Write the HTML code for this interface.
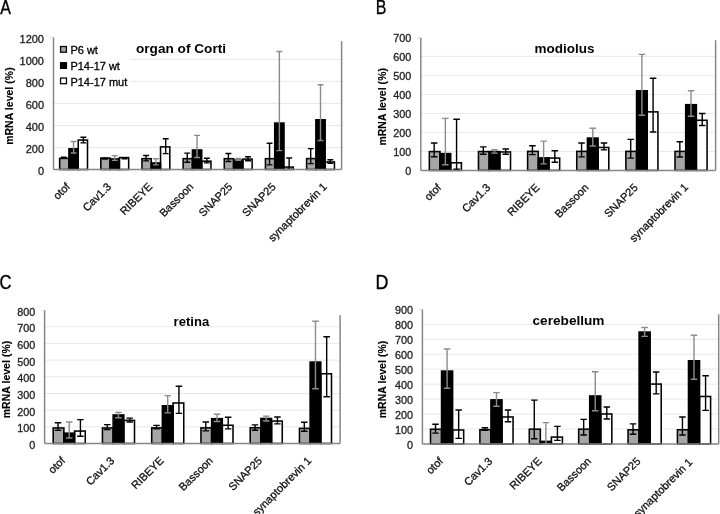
<!DOCTYPE html>
<html><head><meta charset="utf-8"><title>mRNA level charts</title>
<style>html,body{margin:0;padding:0;background:#fff;width:720px;height:514px;overflow:hidden}</style>
</head><body>
<svg width="720" height="514" viewBox="0 0 720 514" style="display:block;filter:blur(0.3px)">
<rect x="0" y="0" width="720" height="514" fill="#fff"/>
<g><line x1="53.5" y1="147.47" x2="341.6" y2="147.47" stroke="#e8e8e8" stroke-width="1"/><line x1="53.5" y1="125.43" x2="341.6" y2="125.43" stroke="#e8e8e8" stroke-width="1"/><line x1="53.5" y1="103.4" x2="341.6" y2="103.4" stroke="#e8e8e8" stroke-width="1"/><line x1="53.5" y1="81.37" x2="341.6" y2="81.37" stroke="#e8e8e8" stroke-width="1"/><line x1="53.5" y1="59.33" x2="341.6" y2="59.33" stroke="#e8e8e8" stroke-width="1"/><line x1="341.6" y1="41.2" x2="341.6" y2="169.5" stroke="#868686" stroke-width="1.5"/><text x="136" y="52.5" font-family='"Liberation Sans", sans-serif' font-weight="bold" font-size="13" textLength="90" lengthAdjust="spacingAndGlyphs" fill="#000">organ of Corti</text><rect x="54.3" y="41" width="76" height="49" fill="#fff"/><rect x="60.55" y="46.52" width="5.9" height="5.7" fill="#a6a6a6" stroke="#000" stroke-width="1.25"/><text x="70.4" y="53.9" font-family='"Liberation Sans", sans-serif' font-size="11" fill="#000" stroke="#000" stroke-width="0.3">P6 wt</text><rect x="60.55" y="62.72" width="5.9" height="5.7" fill="#000" stroke="#000" stroke-width="1.25"/><text x="70.4" y="69.7" font-family='"Liberation Sans", sans-serif' font-size="11" fill="#000" stroke="#000" stroke-width="0.3">P14-17 wt</text><rect x="60.55" y="78.02" width="5.9" height="5.7" fill="#fff" stroke="#000" stroke-width="1.25"/><text x="70.4" y="85.5" font-family='"Liberation Sans", sans-serif' font-size="11" fill="#000" stroke="#000" stroke-width="0.3">P14-17 mut</text><rect x="59.65" y="158.38" width="9.28" height="11.13" fill="#a6a6a6"/><rect x="68.94" y="148.78" width="9.28" height="20.73" fill="#000"/><rect x="78.22" y="140.08" width="9.28" height="29.42" fill="#fff"/><rect x="59.65" y="158.38" width="9.28" height="11.13" fill="none" stroke="#000" stroke-width="1.55"/><rect x="68.94" y="148.78" width="9.28" height="20.73" fill="none" stroke="#000" stroke-width="1.55"/><rect x="78.22" y="140.08" width="9.28" height="29.42" fill="none" stroke="#000" stroke-width="1.55"/><path d="M63.78 157V158.4M60.83 157.2H66.73M60.83 158.2H66.73" stroke="#000" stroke-width="1.4" fill="none"/><path d="M73.58 141.3V153.2M70.63 141.5H76.53M70.63 153H76.53" stroke="#8c8c8c" stroke-width="1.4" fill="none"/><path d="M83.38 137V143.1M80.43 137.2H86.33M80.43 142.9H86.33" stroke="#000" stroke-width="1.4" fill="none"/><rect x="100.81" y="158.08" width="9.28" height="11.42" fill="#a6a6a6"/><rect x="110.09" y="158.97" width="9.28" height="10.53" fill="#000"/><rect x="119.38" y="157.58" width="9.28" height="11.92" fill="#fff"/><rect x="100.81" y="158.08" width="9.28" height="11.42" fill="none" stroke="#000" stroke-width="1.55"/><rect x="110.09" y="158.97" width="9.28" height="10.53" fill="none" stroke="#000" stroke-width="1.55"/><rect x="119.38" y="157.58" width="9.28" height="11.92" fill="none" stroke="#000" stroke-width="1.55"/><path d="M104.94 157.9V159.3M101.99 158.1H107.89M101.99 159.1H107.89" stroke="#000" stroke-width="1.4" fill="none"/><path d="M114.74 155.4V160.6M111.79 155.6H117.69M111.79 160.4H117.69" stroke="#8c8c8c" stroke-width="1.4" fill="none"/><path d="M124.54 157.4V159M121.59 157.6H127.49M121.59 158.8H127.49" stroke="#000" stroke-width="1.4" fill="none"/><rect x="141.97" y="158.68" width="9.28" height="10.82" fill="#a6a6a6"/><rect x="151.25" y="162.97" width="9.28" height="6.53" fill="#000"/><rect x="160.53" y="146.88" width="9.28" height="22.63" fill="#fff"/><rect x="141.97" y="158.68" width="9.28" height="10.82" fill="none" stroke="#000" stroke-width="1.55"/><rect x="151.25" y="162.97" width="9.28" height="6.53" fill="none" stroke="#000" stroke-width="1.55"/><rect x="160.53" y="146.88" width="9.28" height="22.63" fill="none" stroke="#000" stroke-width="1.55"/><path d="M146.09 155.3V161.1M143.14 155.5H149.04M143.14 160.9H149.04" stroke="#000" stroke-width="1.4" fill="none"/><path d="M155.89 158.6V165.1M152.94 158.8H158.84M152.94 164.9H158.84" stroke="#8c8c8c" stroke-width="1.4" fill="none"/><path d="M165.69 138.6V153.8M162.74 138.8H168.64M162.74 153.6H168.64" stroke="#000" stroke-width="1.4" fill="none"/><rect x="183.13" y="158.68" width="9.28" height="10.82" fill="#a6a6a6"/><rect x="192.41" y="149.97" width="9.28" height="19.53" fill="#000"/><rect x="201.69" y="161.18" width="9.28" height="8.32" fill="#fff"/><rect x="183.13" y="158.68" width="9.28" height="10.82" fill="none" stroke="#000" stroke-width="1.55"/><rect x="192.41" y="149.97" width="9.28" height="19.53" fill="none" stroke="#000" stroke-width="1.55"/><rect x="201.69" y="161.18" width="9.28" height="8.32" fill="none" stroke="#000" stroke-width="1.55"/><path d="M187.25 152.9V162.4M184.3 153.1H190.2M184.3 162.2H190.2" stroke="#000" stroke-width="1.4" fill="none"/><path d="M197.05 135.2V157.7M194.1 135.4H200M194.1 157.5H200" stroke="#8c8c8c" stroke-width="1.4" fill="none"/><path d="M206.85 158V163.1M203.9 158.2H209.8M203.9 162.9H209.8" stroke="#000" stroke-width="1.4" fill="none"/><rect x="224.28" y="158.68" width="9.28" height="10.82" fill="#a6a6a6"/><rect x="233.57" y="160.08" width="9.28" height="9.42" fill="#000"/><rect x="242.85" y="159.08" width="9.28" height="10.42" fill="#fff"/><rect x="224.28" y="158.68" width="9.28" height="10.82" fill="none" stroke="#000" stroke-width="1.55"/><rect x="233.57" y="160.08" width="9.28" height="9.42" fill="none" stroke="#000" stroke-width="1.55"/><rect x="242.85" y="159.08" width="9.28" height="10.42" fill="none" stroke="#000" stroke-width="1.55"/><path d="M228.41 153.3V161.7M225.46 153.5H231.36M225.46 161.5H231.36" stroke="#000" stroke-width="1.4" fill="none"/><path d="M238.21 158.3V160.5M235.26 158.5H241.16M235.26 160.3H241.16" stroke="#8c8c8c" stroke-width="1.4" fill="none"/><path d="M248.01 156.6V161M245.06 156.8H250.96M245.06 160.8H250.96" stroke="#000" stroke-width="1.4" fill="none"/><rect x="265.44" y="158.68" width="9.28" height="10.82" fill="#a6a6a6"/><rect x="274.72" y="123.08" width="9.28" height="46.43" fill="#000"/><rect x="284.01" y="167.08" width="9.28" height="2.42" fill="#fff"/><rect x="265.44" y="158.68" width="9.28" height="10.82" fill="none" stroke="#000" stroke-width="1.55"/><rect x="274.72" y="123.08" width="9.28" height="46.43" fill="none" stroke="#000" stroke-width="1.55"/><rect x="284.01" y="167.08" width="9.28" height="2.42" fill="none" stroke="#000" stroke-width="1.55"/><path d="M269.56 143.1V165.1M266.61 143.3H272.51M266.61 164.9H272.51" stroke="#000" stroke-width="1.4" fill="none"/><path d="M279.36 51.3V150.8M276.41 51.5H282.31M276.41 150.6H282.31" stroke="#8c8c8c" stroke-width="1.4" fill="none"/><path d="M289.16 157.8V169.5M286.21 158H292.11M286.21 169.3H292.11" stroke="#000" stroke-width="1.4" fill="none"/><rect x="306.6" y="158.58" width="9.28" height="10.92" fill="#a6a6a6"/><rect x="315.88" y="119.78" width="9.28" height="49.73" fill="#000"/><rect x="325.16" y="161.97" width="9.28" height="7.53" fill="#fff"/><rect x="306.6" y="158.58" width="9.28" height="10.92" fill="none" stroke="#000" stroke-width="1.55"/><rect x="315.88" y="119.78" width="9.28" height="49.73" fill="none" stroke="#000" stroke-width="1.55"/><rect x="325.16" y="161.97" width="9.28" height="7.53" fill="none" stroke="#000" stroke-width="1.55"/><path d="M310.72 148.4V163.8M307.77 148.6H313.67M307.77 163.6H313.67" stroke="#000" stroke-width="1.4" fill="none"/><path d="M320.52 84.6V140.7M317.57 84.8H323.47M317.57 140.5H323.47" stroke="#8c8c8c" stroke-width="1.4" fill="none"/><path d="M330.32 159.5V163.4M327.37 159.7H333.27M327.37 163.2H333.27" stroke="#000" stroke-width="1.4" fill="none"/><line x1="53.5" y1="37.3" x2="53.5" y2="169.5" stroke="#868686" stroke-width="1.5"/><line x1="50" y1="37.8" x2="53.5" y2="37.8" stroke="#d0d0d0" stroke-width="0.8"/><line x1="53.5" y1="169.5" x2="341.6" y2="169.5" stroke="#868686" stroke-width="1.5"/><text x="44" y="175.1" text-anchor="end" font-family='"Liberation Sans", sans-serif' font-size="11" fill="#222" stroke="#222" stroke-width="0.3">0</text><text x="44" y="153.07" text-anchor="end" font-family='"Liberation Sans", sans-serif' font-size="11" fill="#222" stroke="#222" stroke-width="0.3">200</text><text x="44" y="131.03" text-anchor="end" font-family='"Liberation Sans", sans-serif' font-size="11" fill="#222" stroke="#222" stroke-width="0.3">400</text><text x="44" y="109" text-anchor="end" font-family='"Liberation Sans", sans-serif' font-size="11" fill="#222" stroke="#222" stroke-width="0.3">600</text><text x="44" y="86.97" text-anchor="end" font-family='"Liberation Sans", sans-serif' font-size="11" fill="#222" stroke="#222" stroke-width="0.3">800</text><text x="44" y="64.93" text-anchor="end" font-family='"Liberation Sans", sans-serif' font-size="11" fill="#222" stroke="#222" stroke-width="0.3">1000</text><text x="44" y="42.9" text-anchor="end" font-family='"Liberation Sans", sans-serif' font-size="11" fill="#222" stroke="#222" stroke-width="0.3">1200</text><text transform="translate(12.7,106.1) rotate(-90)" text-anchor="middle" font-family='"Liberation Sans", sans-serif' font-weight="bold" font-size="10.4" textLength="77.5" lengthAdjust="spacing" fill="#000" stroke="#000" stroke-width="0.15">mRNA level (%)</text><text transform="translate(67.88,184.5) rotate(-45)" text-anchor="end" dominant-baseline="central" font-family='"Liberation Sans", sans-serif' font-size="11" fill="#111" stroke="#111" stroke-width="0.3">otof</text><text transform="translate(109.04,184.5) rotate(-45)" text-anchor="end" dominant-baseline="central" font-family='"Liberation Sans", sans-serif' font-size="11" fill="#111" stroke="#111" stroke-width="0.3">Cav1.3</text><text transform="translate(150.19,184.5) rotate(-45)" text-anchor="end" dominant-baseline="central" font-family='"Liberation Sans", sans-serif' font-size="11" fill="#111" stroke="#111" stroke-width="0.3">RIBEYE</text><text transform="translate(191.35,184.5) rotate(-45)" text-anchor="end" dominant-baseline="central" font-family='"Liberation Sans", sans-serif' font-size="11" fill="#111" stroke="#111" stroke-width="0.3">Bassoon</text><text transform="translate(230.21,184.5) rotate(-45)" text-anchor="end" dominant-baseline="central" font-family='"Liberation Sans", sans-serif' font-size="11" fill="#111" stroke="#111" stroke-width="0.3">SNAP25</text><text transform="translate(273.66,184.5) rotate(-45)" text-anchor="end" dominant-baseline="central" font-family='"Liberation Sans", sans-serif' font-size="11" fill="#111" stroke="#111" stroke-width="0.3">SNAP25</text><text transform="translate(324.82,184.5) rotate(-45)" text-anchor="end" dominant-baseline="central" font-family='"Liberation Sans", sans-serif' font-size="11" fill="#111" stroke="#111" stroke-width="0.3">synaptobrevin 1</text><text transform="translate(0.3,14) scale(0.82,1)" x="0" y="0" font-family='"Liberation Sans", sans-serif' font-size="19.5" fill="#000" stroke="#000" stroke-width="0.35">A</text></g>
<g><line x1="420.8" y1="151.4" x2="715.6" y2="151.4" stroke="#e8e8e8" stroke-width="1"/><line x1="420.8" y1="132.4" x2="715.6" y2="132.4" stroke="#e8e8e8" stroke-width="1"/><line x1="420.8" y1="113.4" x2="715.6" y2="113.4" stroke="#e8e8e8" stroke-width="1"/><line x1="420.8" y1="94.4" x2="715.6" y2="94.4" stroke="#e8e8e8" stroke-width="1"/><line x1="420.8" y1="75.4" x2="715.6" y2="75.4" stroke="#e8e8e8" stroke-width="1"/><line x1="420.8" y1="56.4" x2="715.6" y2="56.4" stroke="#e8e8e8" stroke-width="1"/><line x1="715.6" y1="40.2" x2="715.6" y2="170.4" stroke="#868686" stroke-width="1.5"/><text x="534.6" y="53.1" font-family='"Liberation Sans", sans-serif' font-weight="bold" font-size="13" textLength="60" lengthAdjust="spacingAndGlyphs" fill="#000">modiolus</text><rect x="429.34" y="151.58" width="10.68" height="18.82" fill="#a6a6a6"/><rect x="440.02" y="153.58" width="10.68" height="16.82" fill="#000"/><rect x="450.71" y="162.78" width="10.68" height="7.63" fill="#fff"/><rect x="429.34" y="151.58" width="10.68" height="18.82" fill="none" stroke="#000" stroke-width="1.55"/><rect x="440.02" y="153.58" width="10.68" height="16.82" fill="none" stroke="#000" stroke-width="1.55"/><rect x="450.71" y="162.78" width="10.68" height="7.63" fill="none" stroke="#000" stroke-width="1.55"/><path d="M434.17 142.8V157M430.92 143H437.42M430.92 156.8H437.42" stroke="#000" stroke-width="1.4" fill="none"/><path d="M445.37 118.2V165M442.12 118.4H448.62M442.12 164.8H448.62" stroke="#8c8c8c" stroke-width="1.4" fill="none"/><path d="M456.57 119V169.5M453.32 119.2H459.82M453.32 169.3H459.82" stroke="#000" stroke-width="1.4" fill="none"/><rect x="478.47" y="151.58" width="10.68" height="18.82" fill="#a6a6a6"/><rect x="489.16" y="151.58" width="10.68" height="18.82" fill="#000"/><rect x="499.84" y="151.97" width="10.68" height="18.43" fill="#fff"/><rect x="478.47" y="151.58" width="10.68" height="18.82" fill="none" stroke="#000" stroke-width="1.55"/><rect x="489.16" y="151.58" width="10.68" height="18.82" fill="none" stroke="#000" stroke-width="1.55"/><rect x="499.84" y="151.97" width="10.68" height="18.43" fill="none" stroke="#000" stroke-width="1.55"/><path d="M483.3 146.7V154.5M480.05 146.9H486.55M480.05 154.3H486.55" stroke="#000" stroke-width="1.4" fill="none"/><path d="M494.5 149.5V153.3M491.25 149.7H497.75M491.25 153.1H497.75" stroke="#8c8c8c" stroke-width="1.4" fill="none"/><path d="M505.7 148.8V154.5M502.45 149H508.95M502.45 154.3H508.95" stroke="#000" stroke-width="1.4" fill="none"/><rect x="527.61" y="151.38" width="10.68" height="19.03" fill="#a6a6a6"/><rect x="538.29" y="157.88" width="10.68" height="12.53" fill="#000"/><rect x="548.98" y="158.08" width="10.68" height="12.32" fill="#fff"/><rect x="527.61" y="151.38" width="10.68" height="19.03" fill="none" stroke="#000" stroke-width="1.55"/><rect x="538.29" y="157.88" width="10.68" height="12.53" fill="none" stroke="#000" stroke-width="1.55"/><rect x="548.98" y="158.08" width="10.68" height="12.32" fill="none" stroke="#000" stroke-width="1.55"/><path d="M532.43 145.6V154.8M529.18 145.8H535.68M529.18 154.6H535.68" stroke="#000" stroke-width="1.4" fill="none"/><path d="M543.63 140.9V164.1M540.38 141.1H546.88M540.38 163.9H546.88" stroke="#8c8c8c" stroke-width="1.4" fill="none"/><path d="M554.83 150.6V162.5M551.58 150.8H558.08M551.58 162.3H558.08" stroke="#000" stroke-width="1.4" fill="none"/><rect x="576.74" y="151.38" width="10.68" height="19.03" fill="#a6a6a6"/><rect x="587.42" y="138.08" width="10.68" height="32.32" fill="#000"/><rect x="598.11" y="147.47" width="10.68" height="22.93" fill="#fff"/><rect x="576.74" y="151.38" width="10.68" height="19.03" fill="none" stroke="#000" stroke-width="1.55"/><rect x="587.42" y="138.08" width="10.68" height="32.32" fill="none" stroke="#000" stroke-width="1.55"/><rect x="598.11" y="147.47" width="10.68" height="22.93" fill="none" stroke="#000" stroke-width="1.55"/><path d="M581.57 142.8V157.1M578.32 143H584.82M578.32 156.9H584.82" stroke="#000" stroke-width="1.4" fill="none"/><path d="M592.77 128V146.2M589.52 128.2H596.02M589.52 146H596.02" stroke="#8c8c8c" stroke-width="1.4" fill="none"/><path d="M603.97 142.8V150.1M600.72 143H607.22M600.72 149.9H607.22" stroke="#000" stroke-width="1.4" fill="none"/><rect x="625.88" y="151.38" width="10.68" height="19.03" fill="#a6a6a6"/><rect x="636.56" y="90.78" width="10.68" height="79.62" fill="#000"/><rect x="647.24" y="111.88" width="10.68" height="58.53" fill="#fff"/><rect x="625.88" y="151.38" width="10.68" height="19.03" fill="none" stroke="#000" stroke-width="1.55"/><rect x="636.56" y="90.78" width="10.68" height="79.62" fill="none" stroke="#000" stroke-width="1.55"/><rect x="647.24" y="111.88" width="10.68" height="58.53" fill="none" stroke="#000" stroke-width="1.55"/><path d="M630.7 139.2V158.3M627.45 139.4H633.95M627.45 158.1H633.95" stroke="#000" stroke-width="1.4" fill="none"/><path d="M641.9 54.2V115.4M638.65 54.4H645.15M638.65 115.2H645.15" stroke="#8c8c8c" stroke-width="1.4" fill="none"/><path d="M653.1 78.1V132.2M649.85 78.3H656.35M649.85 132H656.35" stroke="#000" stroke-width="1.4" fill="none"/><rect x="675.01" y="151.38" width="10.68" height="19.03" fill="#a6a6a6"/><rect x="685.69" y="104.68" width="10.68" height="65.72" fill="#000"/><rect x="696.38" y="120.28" width="10.68" height="50.13" fill="#fff"/><rect x="675.01" y="151.38" width="10.68" height="19.03" fill="none" stroke="#000" stroke-width="1.55"/><rect x="685.69" y="104.68" width="10.68" height="65.72" fill="none" stroke="#000" stroke-width="1.55"/><rect x="696.38" y="120.28" width="10.68" height="50.13" fill="none" stroke="#000" stroke-width="1.55"/><path d="M679.83 141.5V157.2M676.58 141.7H683.08M676.58 157H683.08" stroke="#000" stroke-width="1.4" fill="none"/><path d="M691.03 90.6V116.4M687.78 90.8H694.28M687.78 116.2H694.28" stroke="#8c8c8c" stroke-width="1.4" fill="none"/><path d="M702.23 113.3V125.7M698.98 113.5H705.48M698.98 125.5H705.48" stroke="#000" stroke-width="1.4" fill="none"/><line x1="420.8" y1="37.4" x2="420.8" y2="170.4" stroke="#868686" stroke-width="1.5"/><line x1="417.3" y1="37.9" x2="420.8" y2="37.9" stroke="#d0d0d0" stroke-width="0.8"/><line x1="420.8" y1="170.4" x2="715.6" y2="170.4" stroke="#868686" stroke-width="1.5"/><text x="411.3" y="175.2" text-anchor="end" font-family='"Liberation Sans", sans-serif' font-size="10.8" fill="#222" stroke="#222" stroke-width="0.3">0</text><text x="411.3" y="156.2" text-anchor="end" font-family='"Liberation Sans", sans-serif' font-size="10.8" fill="#222" stroke="#222" stroke-width="0.3">100</text><text x="411.3" y="137.2" text-anchor="end" font-family='"Liberation Sans", sans-serif' font-size="10.8" fill="#222" stroke="#222" stroke-width="0.3">200</text><text x="411.3" y="118.2" text-anchor="end" font-family='"Liberation Sans", sans-serif' font-size="10.8" fill="#222" stroke="#222" stroke-width="0.3">300</text><text x="411.3" y="99.2" text-anchor="end" font-family='"Liberation Sans", sans-serif' font-size="10.8" fill="#222" stroke="#222" stroke-width="0.3">400</text><text x="411.3" y="80.2" text-anchor="end" font-family='"Liberation Sans", sans-serif' font-size="10.8" fill="#222" stroke="#222" stroke-width="0.3">500</text><text x="411.3" y="61.2" text-anchor="end" font-family='"Liberation Sans", sans-serif' font-size="10.8" fill="#222" stroke="#222" stroke-width="0.3">600</text><text x="411.3" y="42.2" text-anchor="end" font-family='"Liberation Sans", sans-serif' font-size="10.8" fill="#222" stroke="#222" stroke-width="0.3">700</text><text transform="translate(386,106.8) rotate(-90)" text-anchor="middle" font-family='"Liberation Sans", sans-serif' font-weight="bold" font-size="10.4" textLength="77.5" lengthAdjust="spacing" fill="#000" stroke="#000" stroke-width="0.15">mRNA level (%)</text><text transform="translate(439.17,185.4) rotate(-45)" text-anchor="end" dominant-baseline="central" font-family='"Liberation Sans", sans-serif' font-size="11" fill="#111" stroke="#111" stroke-width="0.3">otof</text><text transform="translate(488.3,185.4) rotate(-45)" text-anchor="end" dominant-baseline="central" font-family='"Liberation Sans", sans-serif' font-size="11" fill="#111" stroke="#111" stroke-width="0.3">Cav1.3</text><text transform="translate(537.43,185.4) rotate(-45)" text-anchor="end" dominant-baseline="central" font-family='"Liberation Sans", sans-serif' font-size="11" fill="#111" stroke="#111" stroke-width="0.3">RIBEYE</text><text transform="translate(586.57,185.4) rotate(-45)" text-anchor="end" dominant-baseline="central" font-family='"Liberation Sans", sans-serif' font-size="11" fill="#111" stroke="#111" stroke-width="0.3">Bassoon</text><text transform="translate(635.7,185.4) rotate(-45)" text-anchor="end" dominant-baseline="central" font-family='"Liberation Sans", sans-serif' font-size="11" fill="#111" stroke="#111" stroke-width="0.3">SNAP25</text><text transform="translate(686.03,185) rotate(-45)" text-anchor="end" dominant-baseline="central" font-family='"Liberation Sans", sans-serif' font-size="11" fill="#111" stroke="#111" stroke-width="0.3">synaptobrevin 1</text><text transform="translate(375.7,14) scale(0.82,1)" x="0" y="0" font-family='"Liberation Sans", sans-serif' font-size="19.5" fill="#000" stroke="#000" stroke-width="0.35">B</text></g>
<g><line x1="44.6" y1="426.82" x2="340.1" y2="426.82" stroke="#e8e8e8" stroke-width="1"/><line x1="44.6" y1="410.15" x2="340.1" y2="410.15" stroke="#e8e8e8" stroke-width="1"/><line x1="44.6" y1="393.48" x2="340.1" y2="393.48" stroke="#e8e8e8" stroke-width="1"/><line x1="44.6" y1="376.8" x2="340.1" y2="376.8" stroke="#e8e8e8" stroke-width="1"/><line x1="44.6" y1="360.12" x2="340.1" y2="360.12" stroke="#e8e8e8" stroke-width="1"/><line x1="44.6" y1="343.45" x2="340.1" y2="343.45" stroke="#e8e8e8" stroke-width="1"/><line x1="44.6" y1="326.78" x2="340.1" y2="326.78" stroke="#e8e8e8" stroke-width="1"/><line x1="340.1" y1="315.2" x2="340.1" y2="443.5" stroke="#868686" stroke-width="1.5"/><text x="173.6" y="325.8" font-family='"Liberation Sans", sans-serif' font-weight="bold" font-size="13" textLength="35.6" lengthAdjust="spacingAndGlyphs" fill="#000">retina</text><rect x="53.2" y="427.97" width="10.68" height="15.53" fill="#a6a6a6"/><rect x="63.88" y="433.17" width="10.68" height="10.33" fill="#000"/><rect x="74.57" y="431.07" width="10.68" height="12.42" fill="#fff"/><rect x="53.2" y="427.97" width="10.68" height="15.53" fill="none" stroke="#000" stroke-width="1.55"/><rect x="63.88" y="433.17" width="10.68" height="10.33" fill="none" stroke="#000" stroke-width="1.55"/><rect x="74.57" y="431.07" width="10.68" height="12.42" fill="none" stroke="#000" stroke-width="1.55"/><path d="M58.02 422.6V430.6M54.77 422.8H61.27M54.77 430.4H61.27" stroke="#000" stroke-width="1.4" fill="none"/><path d="M69.22 421.8V438.2M65.97 422H72.47M65.97 438H72.47" stroke="#8c8c8c" stroke-width="1.4" fill="none"/><path d="M80.42 419.4V436.4M77.17 419.6H83.67M77.17 436.2H83.67" stroke="#000" stroke-width="1.4" fill="none"/><rect x="102.45" y="427.97" width="10.68" height="15.53" fill="#a6a6a6"/><rect x="113.13" y="414.97" width="10.68" height="28.53" fill="#000"/><rect x="123.82" y="420.38" width="10.68" height="23.12" fill="#fff"/><rect x="102.45" y="427.97" width="10.68" height="15.53" fill="none" stroke="#000" stroke-width="1.55"/><rect x="113.13" y="414.97" width="10.68" height="28.53" fill="none" stroke="#000" stroke-width="1.55"/><rect x="123.82" y="420.38" width="10.68" height="23.12" fill="none" stroke="#000" stroke-width="1.55"/><path d="M107.27 424.4V429.8M104.02 424.6H110.52M104.02 429.6H110.52" stroke="#000" stroke-width="1.4" fill="none"/><path d="M118.47 412.2V418M115.22 412.4H121.72M115.22 417.8H121.72" stroke="#8c8c8c" stroke-width="1.4" fill="none"/><path d="M129.67 417.9V422.2M126.42 418.1H132.92M126.42 422H132.92" stroke="#000" stroke-width="1.4" fill="none"/><rect x="151.7" y="427.88" width="10.68" height="15.62" fill="#a6a6a6"/><rect x="162.38" y="405.77" width="10.68" height="37.73" fill="#000"/><rect x="173.07" y="402.97" width="10.68" height="40.53" fill="#fff"/><rect x="151.7" y="427.88" width="10.68" height="15.62" fill="none" stroke="#000" stroke-width="1.55"/><rect x="162.38" y="405.77" width="10.68" height="37.73" fill="none" stroke="#000" stroke-width="1.55"/><rect x="173.07" y="402.97" width="10.68" height="40.53" fill="none" stroke="#000" stroke-width="1.55"/><path d="M156.53 425.2V429.1M153.28 425.4H159.78M153.28 428.9H159.78" stroke="#000" stroke-width="1.4" fill="none"/><path d="M167.72 395.4V413.1M164.47 395.6H170.97M164.47 412.9H170.97" stroke="#8c8c8c" stroke-width="1.4" fill="none"/><path d="M178.93 386V413.6M175.68 386.2H182.18M175.68 413.4H182.18" stroke="#000" stroke-width="1.4" fill="none"/><rect x="200.95" y="427.88" width="10.68" height="15.62" fill="#a6a6a6"/><rect x="211.63" y="418.67" width="10.68" height="24.83" fill="#000"/><rect x="222.32" y="425.27" width="10.68" height="18.23" fill="#fff"/><rect x="200.95" y="427.88" width="10.68" height="15.62" fill="none" stroke="#000" stroke-width="1.55"/><rect x="211.63" y="418.67" width="10.68" height="24.83" fill="none" stroke="#000" stroke-width="1.55"/><rect x="222.32" y="425.27" width="10.68" height="18.23" fill="none" stroke="#000" stroke-width="1.55"/><path d="M205.78 421.8V431.1M202.53 422H209.03M202.53 430.9H209.03" stroke="#000" stroke-width="1.4" fill="none"/><path d="M216.97 414V421.7M213.72 414.2H220.22M213.72 421.5H220.22" stroke="#8c8c8c" stroke-width="1.4" fill="none"/><path d="M228.18 417.1V429.1M224.93 417.3H231.43M224.93 428.9H231.43" stroke="#000" stroke-width="1.4" fill="none"/><rect x="250.2" y="427.77" width="10.68" height="15.72" fill="#a6a6a6"/><rect x="260.88" y="418.47" width="10.68" height="25.03" fill="#000"/><rect x="271.57" y="421.07" width="10.68" height="22.42" fill="#fff"/><rect x="250.2" y="427.77" width="10.68" height="15.72" fill="none" stroke="#000" stroke-width="1.55"/><rect x="260.88" y="418.47" width="10.68" height="25.03" fill="none" stroke="#000" stroke-width="1.55"/><rect x="271.57" y="421.07" width="10.68" height="22.42" fill="none" stroke="#000" stroke-width="1.55"/><path d="M255.03 424.7V430.5M251.78 424.9H258.27M251.78 430.3H258.27" stroke="#000" stroke-width="1.4" fill="none"/><path d="M266.23 415.9V421.2M262.98 416.1H269.48M262.98 421H269.48" stroke="#8c8c8c" stroke-width="1.4" fill="none"/><path d="M277.43 416.8V424.1M274.18 417H280.68M274.18 423.9H280.68" stroke="#000" stroke-width="1.4" fill="none"/><rect x="299.45" y="428.38" width="10.68" height="15.12" fill="#a6a6a6"/><rect x="310.13" y="362.07" width="10.68" height="81.42" fill="#000"/><rect x="320.82" y="373.77" width="10.68" height="69.72" fill="#fff"/><rect x="299.45" y="428.38" width="10.68" height="15.12" fill="none" stroke="#000" stroke-width="1.55"/><rect x="310.13" y="362.07" width="10.68" height="81.42" fill="none" stroke="#000" stroke-width="1.55"/><rect x="320.82" y="373.77" width="10.68" height="69.72" fill="none" stroke="#000" stroke-width="1.55"/><path d="M304.28 422V431.4M301.03 422.2H307.53M301.03 431.2H307.53" stroke="#000" stroke-width="1.4" fill="none"/><path d="M315.48 321V389M312.23 321.2H318.73M312.23 388.8H318.73" stroke="#8c8c8c" stroke-width="1.4" fill="none"/><path d="M326.68 336.5V396.9M323.43 336.7H329.93M323.43 396.7H329.93" stroke="#000" stroke-width="1.4" fill="none"/><line x1="44.6" y1="310.1" x2="44.6" y2="443.5" stroke="#868686" stroke-width="1.5"/><line x1="41.1" y1="310.6" x2="44.6" y2="310.6" stroke="#d0d0d0" stroke-width="0.8"/><line x1="44.6" y1="443.5" x2="340.1" y2="443.5" stroke="#868686" stroke-width="1.5"/><text x="35.2" y="449.1" text-anchor="end" font-family='"Liberation Sans", sans-serif' font-size="10.8" fill="#222" stroke="#222" stroke-width="0.3">0</text><text x="35.2" y="432.43" text-anchor="end" font-family='"Liberation Sans", sans-serif' font-size="10.8" fill="#222" stroke="#222" stroke-width="0.3">100</text><text x="35.2" y="415.75" text-anchor="end" font-family='"Liberation Sans", sans-serif' font-size="10.8" fill="#222" stroke="#222" stroke-width="0.3">200</text><text x="35.2" y="399.08" text-anchor="end" font-family='"Liberation Sans", sans-serif' font-size="10.8" fill="#222" stroke="#222" stroke-width="0.3">300</text><text x="35.2" y="382.4" text-anchor="end" font-family='"Liberation Sans", sans-serif' font-size="10.8" fill="#222" stroke="#222" stroke-width="0.3">400</text><text x="35.2" y="365.73" text-anchor="end" font-family='"Liberation Sans", sans-serif' font-size="10.8" fill="#222" stroke="#222" stroke-width="0.3">500</text><text x="35.2" y="349.05" text-anchor="end" font-family='"Liberation Sans", sans-serif' font-size="10.8" fill="#222" stroke="#222" stroke-width="0.3">600</text><text x="35.2" y="332.38" text-anchor="end" font-family='"Liberation Sans", sans-serif' font-size="10.8" fill="#222" stroke="#222" stroke-width="0.3">700</text><text x="35.2" y="315.7" text-anchor="end" font-family='"Liberation Sans", sans-serif' font-size="10.8" fill="#222" stroke="#222" stroke-width="0.3">800</text><text transform="translate(9.6,379.5) rotate(-90)" text-anchor="middle" font-family='"Liberation Sans", sans-serif' font-weight="bold" font-size="10.4" textLength="77.5" lengthAdjust="spacing" fill="#000" stroke="#000" stroke-width="0.15">mRNA level (%)</text><text transform="translate(63.02,458.5) rotate(-45)" text-anchor="end" dominant-baseline="central" font-family='"Liberation Sans", sans-serif' font-size="11" fill="#111" stroke="#111" stroke-width="0.3">otof</text><text transform="translate(112.27,458.5) rotate(-45)" text-anchor="end" dominant-baseline="central" font-family='"Liberation Sans", sans-serif' font-size="11" fill="#111" stroke="#111" stroke-width="0.3">Cav1.3</text><text transform="translate(161.53,458.5) rotate(-45)" text-anchor="end" dominant-baseline="central" font-family='"Liberation Sans", sans-serif' font-size="11" fill="#111" stroke="#111" stroke-width="0.3">RIBEYE</text><text transform="translate(210.78,458.5) rotate(-45)" text-anchor="end" dominant-baseline="central" font-family='"Liberation Sans", sans-serif' font-size="11" fill="#111" stroke="#111" stroke-width="0.3">Bassoon</text><text transform="translate(260.03,458.5) rotate(-45)" text-anchor="end" dominant-baseline="central" font-family='"Liberation Sans", sans-serif' font-size="11" fill="#111" stroke="#111" stroke-width="0.3">SNAP25</text><text transform="translate(309.28,458.5) rotate(-45)" text-anchor="end" dominant-baseline="central" font-family='"Liberation Sans", sans-serif' font-size="11" fill="#111" stroke="#111" stroke-width="0.3">synaptobrevin 1</text><text transform="translate(-0.5,289) scale(0.85,1)" x="0" y="0" font-family='"Liberation Sans", sans-serif' font-size="19.5" fill="#000" stroke="#000" stroke-width="0.35">C</text></g>
<g><line x1="422.4" y1="429.03" x2="718.7" y2="429.03" stroke="#e8e8e8" stroke-width="1"/><line x1="422.4" y1="414.07" x2="718.7" y2="414.07" stroke="#e8e8e8" stroke-width="1"/><line x1="422.4" y1="399.1" x2="718.7" y2="399.1" stroke="#e8e8e8" stroke-width="1"/><line x1="422.4" y1="384.13" x2="718.7" y2="384.13" stroke="#e8e8e8" stroke-width="1"/><line x1="422.4" y1="369.17" x2="718.7" y2="369.17" stroke="#e8e8e8" stroke-width="1"/><line x1="422.4" y1="354.2" x2="718.7" y2="354.2" stroke="#e8e8e8" stroke-width="1"/><line x1="422.4" y1="339.23" x2="718.7" y2="339.23" stroke="#e8e8e8" stroke-width="1"/><line x1="422.4" y1="324.27" x2="718.7" y2="324.27" stroke="#e8e8e8" stroke-width="1"/><line x1="718.7" y1="314.3" x2="718.7" y2="444" stroke="#868686" stroke-width="1.5"/><text x="532.5" y="324.6" font-family='"Liberation Sans", sans-serif' font-weight="bold" font-size="13" textLength="72" lengthAdjust="spacingAndGlyphs" fill="#000">cerebellum</text><rect x="430.51" y="429.27" width="11.05" height="14.72" fill="#a6a6a6"/><rect x="441.56" y="371.07" width="11.05" height="72.92" fill="#000"/><rect x="452.62" y="429.97" width="11.05" height="14.03" fill="#fff"/><rect x="430.51" y="429.27" width="11.05" height="14.72" fill="none" stroke="#000" stroke-width="1.55"/><rect x="441.56" y="371.07" width="11.05" height="72.92" fill="none" stroke="#000" stroke-width="1.55"/><rect x="452.62" y="429.97" width="11.05" height="14.03" fill="none" stroke="#000" stroke-width="1.55"/><path d="M435.52 424V433.3M432.27 424.2H438.77M432.27 433.1H438.77" stroke="#000" stroke-width="1.4" fill="none"/><path d="M447.09 348.8V388.4M443.84 349H450.34M443.84 388.2H450.34" stroke="#8c8c8c" stroke-width="1.4" fill="none"/><path d="M458.66 409.8V438.6M455.41 410H461.91M455.41 438.4H461.91" stroke="#000" stroke-width="1.4" fill="none"/><rect x="479.89" y="429.67" width="11.05" height="14.33" fill="#a6a6a6"/><rect x="490.95" y="399.88" width="11.05" height="44.12" fill="#000"/><rect x="502" y="416.97" width="11.05" height="27.03" fill="#fff"/><rect x="479.89" y="429.67" width="11.05" height="14.33" fill="none" stroke="#000" stroke-width="1.55"/><rect x="490.95" y="399.88" width="11.05" height="44.12" fill="none" stroke="#000" stroke-width="1.55"/><rect x="502" y="416.97" width="11.05" height="27.03" fill="none" stroke="#000" stroke-width="1.55"/><path d="M484.91 427.5V430.5M481.66 427.7H488.16M481.66 430.3H488.16" stroke="#000" stroke-width="1.4" fill="none"/><path d="M496.48 392.4V406.5M493.23 392.6H499.73M493.23 406.3H499.73" stroke="#8c8c8c" stroke-width="1.4" fill="none"/><path d="M508.05 409.8V422M504.8 410H511.3M504.8 421.8H511.3" stroke="#000" stroke-width="1.4" fill="none"/><rect x="529.28" y="429.17" width="11.05" height="14.83" fill="#a6a6a6"/><rect x="540.33" y="441.38" width="11.05" height="2.62" fill="#000"/><rect x="551.38" y="437.07" width="11.05" height="6.92" fill="#fff"/><rect x="529.28" y="429.17" width="11.05" height="14.83" fill="none" stroke="#000" stroke-width="1.55"/><rect x="540.33" y="441.38" width="11.05" height="2.62" fill="none" stroke="#000" stroke-width="1.55"/><rect x="551.38" y="437.07" width="11.05" height="6.92" fill="none" stroke="#000" stroke-width="1.55"/><path d="M534.29 399.9V438.9M531.04 400.1H537.54M531.04 438.7H537.54" stroke="#000" stroke-width="1.4" fill="none"/><path d="M545.86 422.4V443.8M542.61 422.6H549.11M542.61 443.6H549.11" stroke="#8c8c8c" stroke-width="1.4" fill="none"/><path d="M557.43 426.2V440.6M554.18 426.4H560.68M554.18 440.4H560.68" stroke="#000" stroke-width="1.4" fill="none"/><rect x="578.66" y="429.17" width="11.05" height="14.83" fill="#a6a6a6"/><rect x="589.71" y="395.97" width="11.05" height="48.03" fill="#000"/><rect x="600.77" y="413.97" width="11.05" height="30.03" fill="#fff"/><rect x="578.66" y="429.17" width="11.05" height="14.83" fill="none" stroke="#000" stroke-width="1.55"/><rect x="589.71" y="395.97" width="11.05" height="48.03" fill="none" stroke="#000" stroke-width="1.55"/><rect x="600.77" y="413.97" width="11.05" height="30.03" fill="none" stroke="#000" stroke-width="1.55"/><path d="M583.67 419.2V435.2M580.42 419.4H586.92M580.42 435H586.92" stroke="#000" stroke-width="1.4" fill="none"/><path d="M595.24 371.5V411M591.99 371.7H598.49M591.99 410.8H598.49" stroke="#8c8c8c" stroke-width="1.4" fill="none"/><path d="M606.81 406.8V419.2M603.56 407H610.06M603.56 419H610.06" stroke="#000" stroke-width="1.4" fill="none"/><rect x="628.04" y="429.77" width="11.05" height="14.22" fill="#a6a6a6"/><rect x="639.1" y="332.07" width="11.05" height="111.92" fill="#000"/><rect x="650.15" y="384.07" width="11.05" height="59.92" fill="#fff"/><rect x="628.04" y="429.77" width="11.05" height="14.22" fill="none" stroke="#000" stroke-width="1.55"/><rect x="639.1" y="332.07" width="11.05" height="111.92" fill="none" stroke="#000" stroke-width="1.55"/><rect x="650.15" y="384.07" width="11.05" height="59.92" fill="none" stroke="#000" stroke-width="1.55"/><path d="M633.05 423.7V434.5M629.8 423.9H636.3M629.8 434.3H636.3" stroke="#000" stroke-width="1.4" fill="none"/><path d="M644.62 327.3V336.6M641.38 327.5H647.88M641.38 336.4H647.88" stroke="#8c8c8c" stroke-width="1.4" fill="none"/><path d="M656.19 371.8V394.1M652.94 372H659.44M652.94 393.9H659.44" stroke="#000" stroke-width="1.4" fill="none"/><rect x="677.43" y="429.77" width="11.05" height="14.22" fill="#a6a6a6"/><rect x="688.48" y="360.77" width="11.05" height="83.22" fill="#000"/><rect x="699.54" y="396.47" width="11.05" height="47.53" fill="#fff"/><rect x="677.43" y="429.77" width="11.05" height="14.22" fill="none" stroke="#000" stroke-width="1.55"/><rect x="688.48" y="360.77" width="11.05" height="83.22" fill="none" stroke="#000" stroke-width="1.55"/><rect x="699.54" y="396.47" width="11.05" height="47.53" fill="none" stroke="#000" stroke-width="1.55"/><path d="M682.44 416.8V435.2M679.19 417H685.69M679.19 435H685.69" stroke="#000" stroke-width="1.4" fill="none"/><path d="M694.01 335V379.5M690.76 335.2H697.26M690.76 379.3H697.26" stroke="#8c8c8c" stroke-width="1.4" fill="none"/><path d="M705.58 375.5V410.6M702.33 375.7H708.83M702.33 410.4H708.83" stroke="#000" stroke-width="1.4" fill="none"/><line x1="422.4" y1="309.3" x2="422.4" y2="444" stroke="#868686" stroke-width="1.5"/><line x1="418.9" y1="309.8" x2="422.4" y2="309.8" stroke="#d0d0d0" stroke-width="0.8"/><line x1="422.4" y1="444" x2="718.7" y2="444" stroke="#868686" stroke-width="1.5"/><text x="413" y="448.8" text-anchor="end" font-family='"Liberation Sans", sans-serif' font-size="10.8" fill="#222" stroke="#222" stroke-width="0.3">0</text><text x="413" y="433.83" text-anchor="end" font-family='"Liberation Sans", sans-serif' font-size="10.8" fill="#222" stroke="#222" stroke-width="0.3">100</text><text x="413" y="418.87" text-anchor="end" font-family='"Liberation Sans", sans-serif' font-size="10.8" fill="#222" stroke="#222" stroke-width="0.3">200</text><text x="413" y="403.9" text-anchor="end" font-family='"Liberation Sans", sans-serif' font-size="10.8" fill="#222" stroke="#222" stroke-width="0.3">300</text><text x="413" y="388.93" text-anchor="end" font-family='"Liberation Sans", sans-serif' font-size="10.8" fill="#222" stroke="#222" stroke-width="0.3">400</text><text x="413" y="373.97" text-anchor="end" font-family='"Liberation Sans", sans-serif' font-size="10.8" fill="#222" stroke="#222" stroke-width="0.3">500</text><text x="413" y="359" text-anchor="end" font-family='"Liberation Sans", sans-serif' font-size="10.8" fill="#222" stroke="#222" stroke-width="0.3">600</text><text x="413" y="344.03" text-anchor="end" font-family='"Liberation Sans", sans-serif' font-size="10.8" fill="#222" stroke="#222" stroke-width="0.3">700</text><text x="413" y="329.07" text-anchor="end" font-family='"Liberation Sans", sans-serif' font-size="10.8" fill="#222" stroke="#222" stroke-width="0.3">800</text><text x="413" y="314.1" text-anchor="end" font-family='"Liberation Sans", sans-serif' font-size="10.8" fill="#222" stroke="#222" stroke-width="0.3">900</text><text transform="translate(386.3,379.5) rotate(-90)" text-anchor="middle" font-family='"Liberation Sans", sans-serif' font-weight="bold" font-size="10.4" textLength="77.5" lengthAdjust="spacing" fill="#000" stroke="#000" stroke-width="0.15">mRNA level (%)</text><text transform="translate(440.89,459) rotate(-45)" text-anchor="end" dominant-baseline="central" font-family='"Liberation Sans", sans-serif' font-size="11" fill="#111" stroke="#111" stroke-width="0.3">otof</text><text transform="translate(490.28,459) rotate(-45)" text-anchor="end" dominant-baseline="central" font-family='"Liberation Sans", sans-serif' font-size="11" fill="#111" stroke="#111" stroke-width="0.3">Cav1.3</text><text transform="translate(539.66,459) rotate(-45)" text-anchor="end" dominant-baseline="central" font-family='"Liberation Sans", sans-serif' font-size="11" fill="#111" stroke="#111" stroke-width="0.3">RIBEYE</text><text transform="translate(589.04,459) rotate(-45)" text-anchor="end" dominant-baseline="central" font-family='"Liberation Sans", sans-serif' font-size="11" fill="#111" stroke="#111" stroke-width="0.3">Bassoon</text><text transform="translate(638.42,459) rotate(-45)" text-anchor="end" dominant-baseline="central" font-family='"Liberation Sans", sans-serif' font-size="11" fill="#111" stroke="#111" stroke-width="0.3">SNAP25</text><text transform="translate(690.31,460) rotate(-45)" text-anchor="end" dominant-baseline="central" font-family='"Liberation Sans", sans-serif' font-size="11" fill="#111" stroke="#111" stroke-width="0.3">synaptobrevin 1</text><text transform="translate(375.4,288.6) scale(0.92,1)" x="0" y="0" font-family='"Liberation Sans", sans-serif' font-size="19.5" fill="#000" stroke="#000" stroke-width="0.35">D</text></g>
</svg>
</body></html>
